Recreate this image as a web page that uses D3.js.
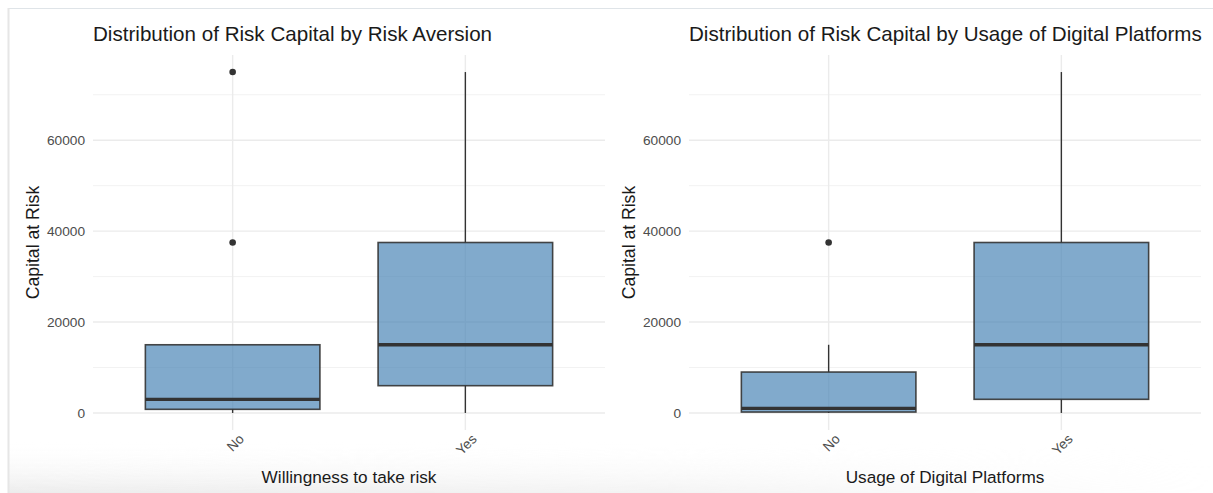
<!DOCTYPE html>
<html>
<head>
<meta charset="utf-8">
<script src="https://cdn.jsdelivr.net/npm/d3@7"></script>
<style>
  html, body { margin: 0; padding: 0; background: #ffffff; }
  svg { display: block; font-family: "Liberation Sans", Arial, Helvetica, sans-serif; }
</style>
</head>
<body>
<svg id="chart" width="1213" height="493"></svg>
<script>
// ---------- data ----------
const categories = ["No", "Yes"];
const yTicks = [0, 20000, 40000, 60000];
const yMinorTicks = [10000, 30000, 50000, 70000];

// Panel 1: Willingness to take risk
const riskTitle = "Distribution of Risk Capital by Risk Aversion";
const riskXLabel = "Willingness to take risk";
const riskMin    = [0, 0];
const riskQ1     = [800, 6000];
const riskMedian = [3000, 15000];
const riskQ3     = [15000, 37500];
const riskMax    = [15000, 75000];
const riskOutliers = [[37500, 75000], []];

// Panel 2: Usage of Digital Platforms
const digiTitle = "Distribution of Risk Capital by Usage of Digital Platforms";
const digiXLabel = "Usage of Digital Platforms";
const digiMin    = [0, 0];
const digiQ1     = [200, 3000];
const digiMedian = [1000, 15000];
const digiQ3     = [9000, 37500];
const digiMax    = [15000, 75000];
const digiOutliers = [[37500], []];

const yLabel = "Capital at Risk";

// ---------- drawing ----------
const svg = d3.select("#chart");

// screenshot frame
const defs = svg.append("defs");
const grad = defs.append("linearGradient").attr("id", "shadeV").attr("x1", 0).attr("y1", 0).attr("x2", 0).attr("y2", 1);
grad.append("stop").attr("offset", "0%").attr("stop-color", "#ffffff").attr("stop-opacity", 0);
grad.append("stop").attr("offset", "100%").attr("stop-color", "#ececec").attr("stop-opacity", 1);
const gradH = defs.append("linearGradient").attr("id", "shadeMask").attr("x1", 0).attr("y1", 0).attr("x2", 1).attr("y2", 0);
gradH.append("stop").attr("offset", "0%").attr("stop-color", "#fff").attr("stop-opacity", 1);
gradH.append("stop").attr("offset", "55%").attr("stop-color", "#fff").attr("stop-opacity", 0.6);
gradH.append("stop").attr("offset", "100%").attr("stop-color", "#fff").attr("stop-opacity", 0);
const mask = defs.append("mask").attr("id", "fadeMask");
mask.append("rect").attr("x", 0).attr("y", 0).attr("width", 1213).attr("height", 493).attr("fill", "url(#shadeMask)");

svg.append("rect").attr("x", 8).attr("y", 440).attr("width", 1205).attr("height", 53)
  .attr("fill", "url(#shadeV)").attr("mask", "url(#fadeMask)");
svg.append("line").attr("x1", 8).attr("x2", 1213).attr("y1", 8.5).attr("y2", 8.5)
  .attr("stroke", "#dfe4e8").attr("stroke-width", 1.2);
svg.append("line").attr("x1", 8.5).attr("x2", 8.5).attr("y1", 8).attr("y2", 493)
  .attr("stroke", "#e6e6e6").attr("stroke-width", 2);

function drawPanel(opts) {
  const { left, right, title, xLabel, mins, q1, med, q3, maxs, outliers } = opts;
  const top = 55, bottom = 430;
  const g = svg.append("g");

  const y = d3.scaleLinear().domain([-3750, 78750]).range([bottom, top]);
  // ggplot style discrete expansion: center positions with 0.6 unit padding
  const unit = (right - left) / 2.2;
  const x = d3.scalePoint().domain(categories).range([left + unit * 0.6, right - unit * 0.6]);
  const cx = d => x(d);
  const bw = unit * 0.75;

  // minor gridlines
  g.selectAll(".ymin").data(yMinorTicks).enter().append("line")
    .attr("x1", left).attr("x2", right)
    .attr("y1", d => y(d)).attr("y2", d => y(d))
    .attr("stroke", "#f2f2f2").attr("stroke-width", 1);
  // major gridlines
  g.selectAll(".ymaj").data(yTicks).enter().append("line")
    .attr("x1", left).attr("x2", right)
    .attr("y1", d => y(d)).attr("y2", d => y(d))
    .attr("stroke", "#ebebeb").attr("stroke-width", 1.4);
  g.selectAll(".xmaj").data(categories).enter().append("line")
    .attr("x1", d => cx(d)).attr("x2", d => cx(d))
    .attr("y1", top).attr("y2", bottom)
    .attr("stroke", "#ebebeb").attr("stroke-width", 1.4);

  // y axis labels via d3 axis
  const yAxis = d3.axisLeft(y).tickValues(yTicks).tickSize(0).tickPadding(0).tickFormat(d3.format("d"));
  const ya = g.append("g").attr("transform", `translate(${left - 8},0)`).call(yAxis);
  ya.select(".domain").remove();
  ya.selectAll("text").attr("fill", "#4d4d4d").attr("font-size", 13.7).attr("font-family", "Liberation Sans, Arial, sans-serif");

  // x axis labels
  const xAxis = d3.axisBottom(x).tickSize(0).tickPadding(0);
  const xa = g.append("g").attr("transform", `translate(0,${bottom + 7})`).call(xAxis);
  xa.select(".domain").remove();
  xa.selectAll("text")
    .attr("fill", "#4d4d4d").attr("font-size", 13.7).attr("font-family", "Liberation Sans, Arial, sans-serif")
    .attr("text-anchor", "end").attr("dy", "0.75em").attr("dx", "0.45em")
    .attr("transform", "rotate(-45)");

  // boxes
  categories.forEach((c, i) => {
    const xc = cx(c);
    g.append("line").attr("x1", xc).attr("x2", xc).attr("y1", y(q3[i])).attr("y2", y(maxs[i]))
      .attr("stroke", "#333333").attr("stroke-width", 1.4);
    g.append("line").attr("x1", xc).attr("x2", xc).attr("y1", y(q1[i])).attr("y2", y(mins[i]))
      .attr("stroke", "#333333").attr("stroke-width", 1.4);
    g.append("rect").attr("x", xc - bw / 2).attr("width", bw)
      .attr("y", y(q3[i])).attr("height", y(q1[i]) - y(q3[i]))
      .attr("fill", "rgba(70,130,180,0.68)").attr("stroke", "#333333").attr("stroke-opacity", 0.9).attr("stroke-width", 1.6);
    g.append("line").attr("x1", xc - bw / 2).attr("x2", xc + bw / 2).attr("y1", y(med[i])).attr("y2", y(med[i]))
      .attr("stroke", "#333333").attr("stroke-width", 3.3);
    g.selectAll(null).data(outliers[i]).enter().append("circle")
      .attr("cx", xc).attr("cy", d => y(d)).attr("r", 3.3).attr("fill", "#333333");
  });

  // titles
  svg.append("text").attr("x", left).attr("y", 41).attr("font-size", 20.6).attr("fill", "#1a1a1a").text(title);
  svg.append("text").attr("x", (left + right) / 2).attr("y", 483).attr("text-anchor", "middle")
    .attr("font-size", 17.2).attr("fill", "#1a1a1a").text(xLabel);
  svg.append("text").attr("transform", `translate(${left - 54},${(top + bottom) / 2}) rotate(-90)`)
    .attr("text-anchor", "middle").attr("font-size", 17.6).attr("fill", "#1a1a1a").text(yLabel);
}

drawPanel({ left: 93, right: 605, title: riskTitle, xLabel: riskXLabel,
  mins: riskMin, q1: riskQ1, med: riskMedian, q3: riskQ3, maxs: riskMax, outliers: riskOutliers });
drawPanel({ left: 689, right: 1201, title: digiTitle, xLabel: digiXLabel,
  mins: digiMin, q1: digiQ1, med: digiMedian, q3: digiQ3, maxs: digiMax, outliers: digiOutliers });
</script>
</body>
</html>
